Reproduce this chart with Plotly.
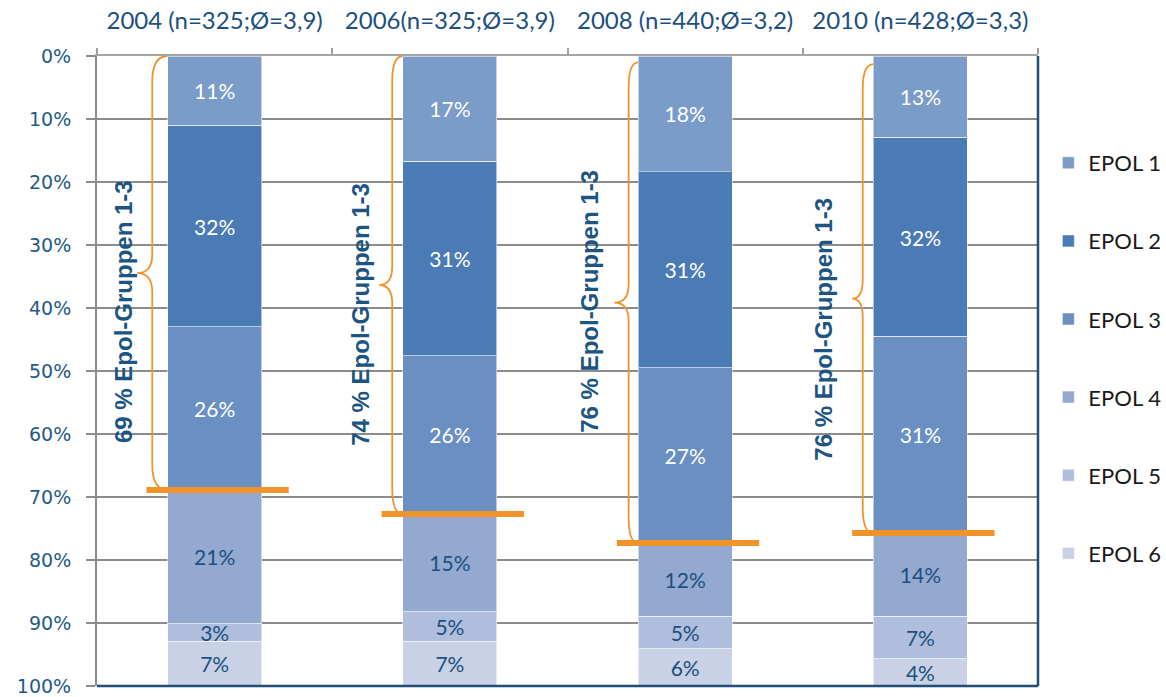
import plotly.graph_objects as go

# ---------------- data ----------------
categories = ["2004 (n=325;Ø=3,9)", "2006(n=325;Ø=3,9)", "2008 (n=440;Ø=3,2)", "2010 (n=428;Ø=3,3)"]
series_names = ["EPOL 1", "EPOL 2", "EPOL 3", "EPOL 4", "EPOL 5", "EPOL 6"]
epol1 = [11.1, 16.8, 18.3, 13.0]
epol2 = [31.8, 30.7, 31.1, 31.6]
epol3 = [26.0, 25.2, 27.9, 31.1]
epol4 = [21.1, 15.4, 11.7, 13.3]
epol5 = [3.0, 4.9, 5.0, 6.6]
epol6 = [7.0, 7.0, 6.0, 4.4]
labels1 = ["11%", "17%", "18%", "13%"]
labels2 = ["32%", "31%", "31%", "32%"]
labels3 = ["26%", "26%", "27%", "31%"]
labels4 = ["21%", "15%", "12%", "14%"]
labels5 = ["3%", "5%", "5%", "7%"]
labels6 = ["7%", "7%", "6%", "4%"]
group_texts = ["69 % Epol-Gruppen 1-3", "74 % Epol-Gruppen 1-3",
               "76 % Epol-Gruppen 1-3", "76 % Epol-Gruppen 1-3"]
y_tick_values = [0, 10, 20, 30, 40, 50, 60, 70, 80, 90, 100]
y_tick_labels = ["0%", "10%", "20%", "30%", "40%", "50%", "60%", "70%", "80%", "90%", "100%"]

# ---------------- styles ----------------
colors = ["#7B9BC9", "#4A7BB5", "#6A8FC3", "#93A9CF", "#AEBEDC", "#C8D1E5"]
text_colors = ["white", "white", "white", "#1C4F7F", "#1C4F7F", "#1C4F7F"]
orange = "#F0932B"
dark_blue = "#1C5582"
grid_gray = "#8C8C8C"

series = [epol1, epol2, epol3, epol4, epol5, epol6]
labels = [labels1, labels2, labels3, labels4, labels5, labels6]

fig = go.Figure()
for name, vals, txt, col, tcol in zip(series_names, series, labels, colors, text_colors):
    fig.add_trace(go.Bar(
        x=categories, y=vals, name=name, legendgroup=name,
        marker=dict(color=col, line=dict(color="rgba(255,255,255,0.55)", width=1)),
        text=txt, textposition="inside", insidetextanchor="middle",
        textangle=0, constraintext="none",
        textfont=dict(family="Lato", size=21, color=tcol),
        hoverinfo="skip",
    ))

# brace / annotation layout helpers (in category units / % units)
half_bar = 0.2
brace_v = [0.065, 0.045, 0.04, 0.045]     # distance of brace spine from bar edge
brace_tip = [0.13, 0.10, 0.10, 0.09]      # distance of brace tip from bar edge
brace_top = [0.0, 0.0, 1.0, 1.3]
text_dx = [-0.39, -0.38, -0.41, -0.41]
text_y = [40.5, 41.0, 38.9, 43.3]

shapes = []
annotations = []
for i in range(len(categories)):
    cum3 = epol1[i] + epol2[i] + epol3[i]
    # orange threshold line
    shapes.append(dict(type="line", xref="x", yref="y",
                       x0=i - half_bar - 0.09, x1=i + half_bar + 0.115,
                       y0=cum3, y1=cum3, line=dict(color=orange, width=6), layer="above"))
    # curly brace
    xe = i - half_bar
    xv = xe - brace_v[i]
    xt = xe - brace_tip[i]
    y0 = brace_top[i]
    y1 = cum3
    ym = (y0 + y1) / 2
    d = 4.0
    dm = 3.0
    path = (f"M {xe},{y0} Q {xv},{y0} {xv},{y0 + d} "
            f"L {xv},{ym - dm} Q {xv},{ym} {xt},{ym} "
            f"Q {xv},{ym} {xv},{ym + dm} "
            f"L {xv},{y1 - d} Q {xv},{y1} {xe},{y1}")
    shapes.append(dict(type="path", xref="x", yref="y", path=path,
                       line=dict(color=orange, width=1.8), layer="above"))
    annotations.append(dict(x=i + text_dx[i], y=text_y[i], xref="x", yref="y",
                            text=group_texts[i], textangle=-90, showarrow=False,
                            font=dict(family="Liberation Sans", size=24, color=dark_blue, weight="bold")))

# plot-area border on right and bottom (dark blue)
shapes.append(dict(type="line", xref="paper", yref="paper", x0=1, x1=1, y0=0, y1=1,
                   line=dict(color="#1F4E79", width=2.5), layer="above"))
shapes.append(dict(type="line", xref="paper", yref="paper", x0=0, x1=1, y0=0, y1=0,
                   line=dict(color="#1F4E79", width=2.5), layer="above"))

fig.update_layout(
    width=1166, height=697,
    margin=dict(l=97, r=128, t=56, b=11, autoexpand=False),
    paper_bgcolor="white", plot_bgcolor="white",
    barmode="stack", bargap=0.6,
    shapes=shapes, annotations=annotations,
    legend=dict(x=1.011, xanchor="left", y=0.8635, yanchor="top",
                traceorder="grouped", tracegroupgap=46.5,
                font=dict(family="Lato", size=22, color="#1A1A1A"),
                bgcolor="rgba(0,0,0,0)"),
    xaxis=dict(side="top", type="category", tickson="boundaries", automargin=False,
               ticks="outside", ticklen=6, tickcolor="#A0A0A0", tickwidth=1.5,
               showline=True, linecolor="#A6A6A6", linewidth=1.5,
               showgrid=False, range=[-0.5, 3.5], ticklabelstandoff=16,
               tickfont=dict(family="Lato", size=24, color="#1C4F7F")),
    yaxis=dict(range=[100, 0], autorange=False, tickmode="array",
               tickvals=y_tick_values, ticktext=y_tick_labels, automargin=False,
               ticks="outside", ticklen=9, tickcolor=grid_gray, tickwidth=2,
               showline=True, linecolor=grid_gray, linewidth=2, ticklabelstandoff=11,
               showgrid=True, gridcolor=grid_gray, gridwidth=1.5, zeroline=False,
               tickfont=dict(family="DejaVu Sans", size=19, color="#1F5A88")),
)

fig.write_html("out.html", config={"displayModeBar": False},
               post_script="document.body.style.margin='0';document.body.style.overflow='hidden';")
